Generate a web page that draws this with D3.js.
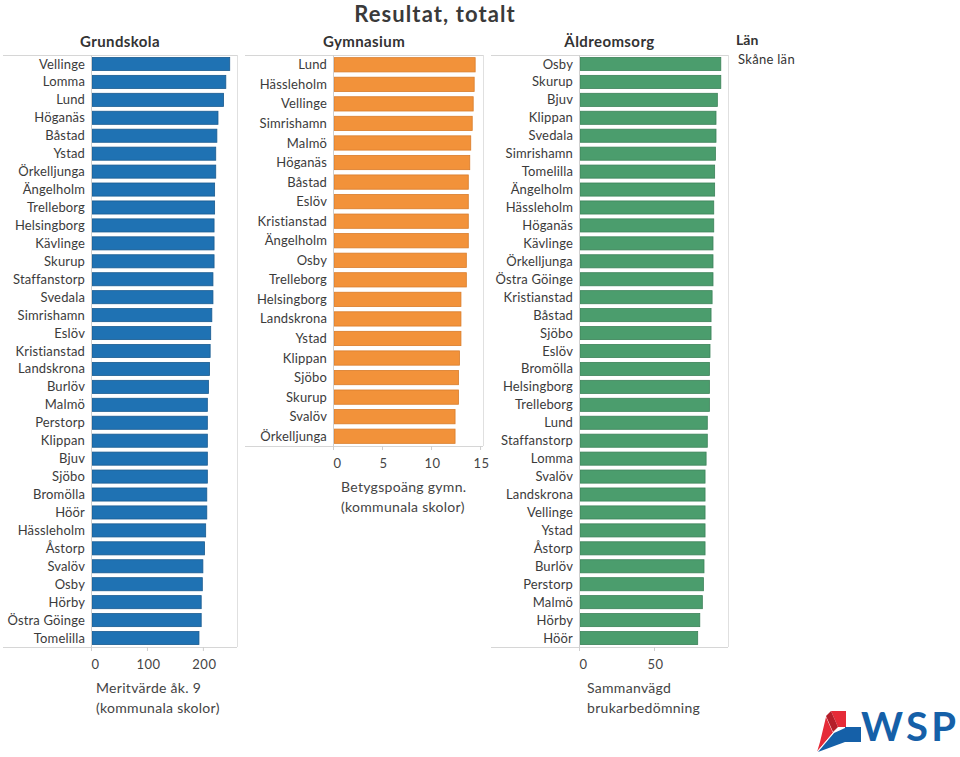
<!DOCTYPE html>
<html><head><meta charset="utf-8">
<script src="https://cdn.jsdelivr.net/npm/d3@7"></script>
<style>
body{margin:0;background:#fff;}
svg{display:block;font-family:Lato,"Open Sans",sans-serif;}
</style></head>
<body><svg id="c" width="960" height="757"></svg>
<script>
const grundCats = ["Vellinge","Lomma","Lund","Höganäs","Båstad","Ystad","Örkelljunga","Ängelholm","Trelleborg","Helsingborg","Kävlinge","Skurup","Staffanstorp","Svedala","Simrishamn","Eslöv","Kristianstad","Landskrona","Burlöv","Malmö","Perstorp","Klippan","Bjuv","Sjöbo","Bromölla","Höör","Hässleholm","Åstorp","Svalöv","Osby","Hörby","Östra Göinge","Tomelilla"];
const grundVals = [248,241,237,227,225,223,223,221,221,220,220,220,218,218,216,214,213,212,210,208,208,208,208,208,207,207,205,203,200,199,197,197,193];
const grundTicks = [0,100,200];

const gymCats = ["Lund","Hässleholm","Vellinge","Simrishamn","Malmö","Höganäs","Båstad","Eslöv","Kristianstad","Ängelholm","Osby","Trelleborg","Helsingborg","Landskrona","Ystad","Klippan","Sjöbo","Skurup","Svalöv","Örkelljunga"];
const gymVals = [14.5,14.4,14.3,14.2,14.05,13.95,13.8,13.8,13.8,13.8,13.6,13.6,13.05,13.05,13.05,12.9,12.8,12.8,12.45,12.45];
const gymTicks = [0,5,10,15];

const aldreCats = ["Osby","Skurup","Bjuv","Klippan","Svedala","Simrishamn","Tomelilla","Ängelholm","Hässleholm","Höganäs","Kävlinge","Örkelljunga","Östra Göinge","Kristianstad","Båstad","Sjöbo","Eslöv","Bromölla","Helsingborg","Trelleborg","Lund","Staffanstorp","Lomma","Svalöv","Landskrona","Vellinge","Ystad","Åstorp","Burlöv","Perstorp","Malmö","Hörby","Höör"];
const aldreVals = [94.5,94.5,92.2,91.3,91.3,90.9,90.4,90.4,89.8,89.8,89.3,89.3,89.3,88.7,88,88,87.3,86.9,86.9,86.9,85.5,85.5,84.7,84,84,84,84,84,83.3,82.9,82.2,80.5,79.1];
const aldreTicks = [0,50];

const panelTitles = ["Grundskola","Gymnasium","Äldreomsorg"];
const axisTitles = [["Meritvärde åk. 9","(kommunala skolor)"],["Betygspoäng gymn.","(kommunala skolor)"],["Sammanvägd","brukarbedömning"]];
const chartTitle = "Resultat, totalt";
const legendTitle = "Län";
const legendItems = ["Skåne län"];

const panels = [
  {cats:grundCats, vals:grundVals, ticks:grundTicks, max:261, left:3, x0:91, right:237, top:55, bottom:647, fill:"#1f72b3", stroke:"#1a5b90"},
  {cats:gymCats, vals:gymVals, ticks:gymTicks, max:15.3, left:245, x0:333, right:483, top:55, bottom:446, fill:"#f2923a", stroke:"#d97c2a"},
  {cats:aldreCats, vals:aldreVals, ticks:aldreTicks, max:99.3, left:491, x0:579, right:728, top:55, bottom:647, fill:"#4b9d6d", stroke:"#3c8259"}
];

const svg = d3.select("#c");
const textCol = "#3b3b3b";

svg.append("text").attr("x",435).attr("y",22).attr("text-anchor","middle")
  .attr("font-size",22).attr("font-weight","bold").attr("letter-spacing",1.1)
  .attr("fill","#3a3a3a").text(chartTitle);

panels.forEach((p,i)=>{
  const g = svg.append("g");
  const x = d3.scaleLinear().domain([0,p.max]).range([p.x0,p.right]);
  const y = d3.scaleBand().domain(p.cats).range([p.top,p.bottom]).paddingInner(0.27).paddingOuter(0.135);

  g.append("text").attr("x",(p.left+p.right)/2).attr("y",47).attr("text-anchor","middle")
    .attr("font-size",15).attr("font-weight","bold").attr("letter-spacing",0.4).attr("fill","#333").text(panelTitles[i]);

  // frame
  g.append("line").attr("x1",p.left).attr("x2",p.right).attr("y1",p.top+0.5).attr("y2",p.top+0.5).attr("stroke","#d6d6d6");
  g.append("line").attr("x1",p.left).attr("x2",p.right).attr("y1",p.bottom+0.5).attr("y2",p.bottom+0.5).attr("stroke","#d6d6d6");
  g.append("line").attr("x1",p.right+0.5).attr("x2",p.right+0.5).attr("y1",p.top).attr("y2",p.bottom).attr("stroke","#e0e0e0");

  g.selectAll("rect.bar").data(p.vals).join("rect").attr("class","bar")
    .attr("x",x(0)+1).attr("y",(d,j)=>y(p.cats[j]))
    .attr("width",d=>x(d)-x(0)-1).attr("height",y.bandwidth())
    .attr("fill",p.fill).attr("stroke",p.stroke).attr("stroke-width",0.8);

  g.append("line").attr("x1",x(0)+0.5).attr("x2",x(0)+0.5).attr("y1",p.top).attr("y2",p.bottom+4).attr("stroke","#cfcfcf");

  g.selectAll("text.lab").data(p.cats).join("text").attr("class","lab")
    .attr("x",x(0)-6).attr("y",d=>y(d)+y.bandwidth()/2).attr("dy","0.35em")
    .attr("text-anchor","end").attr("font-size",13).attr("letter-spacing",0.15).attr("fill",textCol).text(d=>d);

  const ax = g.append("g").attr("transform",`translate(0,${p.bottom})`)
    .call(d3.axisBottom(x).tickValues(p.ticks).tickSize(4).tickPadding(9).tickFormat(d3.format("d")));
  ax.select(".domain").remove();
  ax.selectAll(".tick line").attr("stroke","#cfcfcf");
  ax.selectAll(".tick text").attr("font-size",13).attr("fill","#444").attr("font-family","Lato,sans-serif")
    .attr("letter-spacing",0.5).attr("dx",d=>d===0?4:1);

  axisTitles[i].forEach((t,k)=>{
    g.append("text").attr("x",x(0)+(i===0?5:8)).attr("y",p.bottom+46+k*20)
      .attr("font-size",14).attr("letter-spacing",0.3).attr("fill","#444").text(t);
  });
});

svg.append("text").attr("x",736).attr("y",45).attr("font-size",14).attr("font-weight","bold").attr("fill","#333").text(legendTitle);
svg.selectAll("text.leg").data(legendItems).join("text").attr("class","leg")
  .attr("x",738).attr("y",(d,i)=>64+i*18).attr("font-size",13).attr("letter-spacing",0.3).attr("fill","#333").text(d=>d);

// WSP logo
const logo = svg.append("g");
logo.append("polygon").attr("points","831,711 846,711 846,727 838,727").attr("fill","#e52b38");
logo.append("polygon").attr("points","826,716 831,711 838,727 833,732").attr("fill","#b51e2a");
logo.append("polygon").attr("points","845,727 861,727 861,742 845,742").attr("fill","#1560a8");
logo.append("polygon").attr("points","834,733 845,728 845,742 818,752").attr("fill","#1560a8");
logo.append("polygon").attr("points","826,717 833,733 817,752 820,742").attr("fill","#e52b38");
logo.append("line").attr("x1",833).attr("y1",733).attr("x2",817).attr("y2",752).attr("stroke","#fff").attr("stroke-width",1);
logo.append("text").attr("x",861).attr("y",741).attr("font-size",40).attr("font-weight","bold")
  .attr("font-family","Lato,Arial,sans-serif").attr("fill","#1560a8").attr("textLength",95).text("WSP");
</script></body></html>
